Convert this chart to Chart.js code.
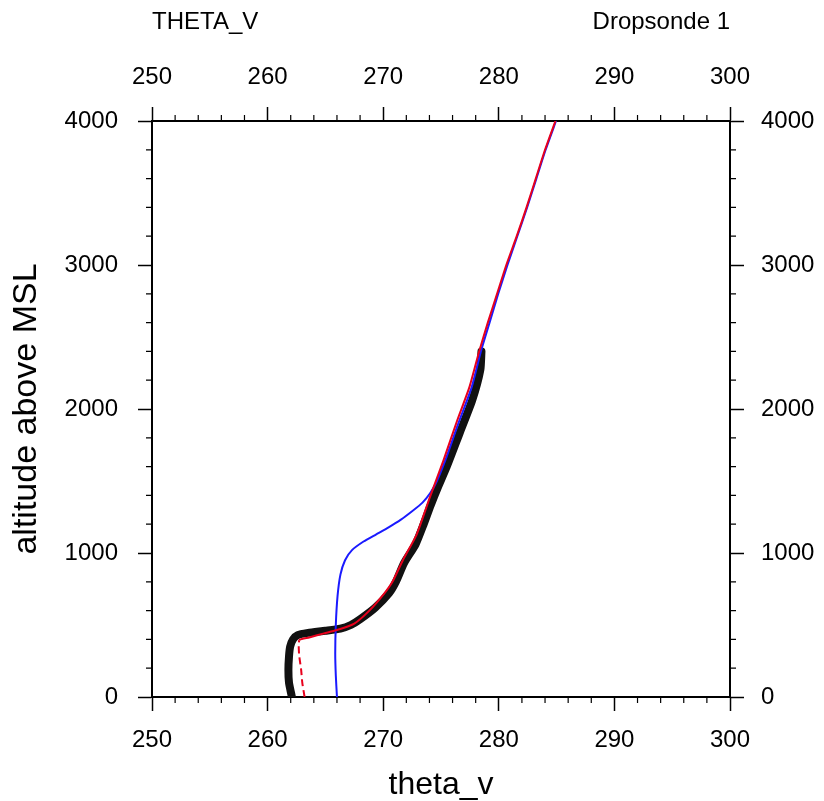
<!DOCTYPE html>
<html>
<head>
<meta charset="utf-8">
<script src="https://cdn.jsdelivr.net/npm/chart.js@4"></script>
<style>
  html, body { margin: 0; padding: 0; background: #fff; }
  canvas { display: block; }
</style>
</head>
<body>
<canvas id="chart" width="824" height="801"></canvas>
<script>
// tick values
const xTicks = [250, 260, 270, 280, 290, 300]
const yTicks = [0, 1000, 2000, 3000, 4000]
const xMinorStep = 2
const yMinorStep = 200

// observed theta_v (thick black)
const obsAlt = [0, 20, 100, 190, 280, 350, 400, 430, 445, 460, 475, 500, 540, 620, 720, 800, 930, 1060, 1200, 1330, 1450, 1600, 1830, 2060, 2270, 2400]
const obsTheta = [262.1, 262.05, 261.85, 261.8, 261.85, 261.95, 262.2, 262.6, 263.5, 265.0, 266.3, 267.2, 268.0, 269.3, 270.5, 271.1, 271.8, 272.8, 273.5, 274.1, 274.7, 275.5, 276.6, 277.7, 278.4, 278.5]

// red profile (dashed below ~400 m)
const redAlt = [0, 100, 190, 300, 395, 413, 440, 465, 510, 600, 720, 800, 950, 1130, 1390, 1640, 1920, 2150, 2400, 2600, 2800, 3000, 3200, 3400, 3600, 3800, 4000]
const redTheta = [263.2, 263.0, 262.9, 262.72, 262.75, 263.6, 264.8, 266.0, 267.5, 268.8, 270.1, 270.8, 271.7, 272.9, 274.05, 275.2, 276.4, 277.45, 278.3, 279.05, 279.85, 280.65, 281.55, 282.4, 283.2, 284.0, 284.9]
const redDashBelow = 400

// blue profile
const blueAlt = [0, 150, 300, 500, 700, 850, 950, 1020, 1080, 1130, 1180, 1230, 1290, 1350, 1420, 1500, 1650, 1900, 2150, 2400, 2600, 2800, 3000, 3200, 3400, 3600, 3800, 4000]
const blueTheta = [266.0, 265.9, 265.85, 265.9, 266.05, 266.3, 266.7, 267.3, 268.3, 269.4, 270.5, 271.5, 272.5, 273.4, 274.1, 274.65, 275.4, 276.5, 277.65, 278.45, 279.2, 279.95, 280.75, 281.6, 282.45, 283.25, 284.05, 284.95]

const toPoints = (xs, ys) => xs.map((x, i) => ({ x, y: ys[i] }))

const fontFamily = "'Liberation Sans', Arial, Helvetica, sans-serif"
const tickFont = { family: fontFamily, size: 24 }

const minorTicks = {
  id: "minorTicks",
  afterDraw(chart) {
    const ctx = chart.ctx
    const len = 6
    ctx.save()
    ctx.strokeStyle = "#000"
    ctx.lineWidth = 1.2
    ctx.beginPath()
    ;["x", "x2"].forEach((id) => {
      const scale = chart.scales[id]
      const edge = id === "x" ? scale.top : scale.bottom
      const dir = id === "x" ? 1 : -1
      for (let v = scale.min; v <= scale.max; v += xMinorStep) {
        if (xTicks.includes(v)) continue
        const px = scale.getPixelForValue(v)
        ctx.moveTo(px, edge)
        ctx.lineTo(px, edge + dir * len)
      }
    })
    ;["y", "y2"].forEach((id) => {
      const scale = chart.scales[id]
      const edge = id === "y" ? scale.right : scale.left
      const dir = id === "y" ? -1 : 1
      for (let v = scale.min; v <= scale.max; v += yMinorStep) {
        if (yTicks.includes(v)) continue
        const py = scale.getPixelForValue(v)
        ctx.moveTo(edge, py)
        ctx.lineTo(edge + dir * len, py)
      }
    })
    ctx.stroke()
    ctx.restore()
  }
}

const cornerTitles = {
  id: "cornerTitles",
  afterDraw(chart) {
    const ctx = chart.ctx
    const area = chart.chartArea
    ctx.save()
    ctx.fillStyle = "#000"
    ctx.font = `24px ${fontFamily}`
    ctx.textBaseline = "middle"
    ctx.textAlign = "left"
    ctx.fillText("THETA_V", area.left, 22)
    ctx.textAlign = "right"
    ctx.fillText("Dropsonde 1", area.right, 22)
    ctx.restore()
  }
}

const xAxis = (position, height, title) => ({
  type: "linear",
  position,
  min: 250,
  max: 300,
  afterFit: (scale) => { scale.height = height },
  afterBuildTicks: (scale) => { scale.ticks = xTicks.map((value) => ({ value })) },
  ticks: { font: tickFont, color: "#000", padding: 15, maxRotation: 0, callback: (value) => String(value) },
  grid: { drawOnChartArea: false, drawTicks: true, tickLength: 14, tickWidth: 1.5, tickColor: "#000" },
  border: { display: true, color: "#000", width: 2 },
  title: title
    ? { display: true, text: title, color: "#000", font: { family: fontFamily, size: 32, lineHeight: 1 }, padding: { top: 2, bottom: 0 } }
    : { display: false }
})

const yAxis = (position, width, pad, title) => ({
  type: "linear",
  position,
  min: 0,
  max: 4000,
  afterFit: (scale) => { scale.width = width },
  afterBuildTicks: (scale) => { scale.ticks = yTicks.map((value) => ({ value })) },
  ticks: { font: tickFont, color: "#000", padding: pad, callback: (value) => String(value) },
  grid: { drawOnChartArea: false, drawTicks: true, tickLength: 14, tickWidth: 1.5, tickColor: "#000" },
  border: { display: true, color: "#000", width: 2 },
  title: title
    ? { display: true, text: title, color: "#000", font: { family: fontFamily, size: 34, lineHeight: 1 }, padding: { top: 10, bottom: 0 } }
    : { display: false }
})

new Chart(document.getElementById("chart"), {
  type: "scatter",
  data: {
    datasets: [
      {
        label: "red",
        data: toPoints(redTheta, redAlt),
        showLine: true,
        borderColor: "#e8001c",
        borderWidth: 2,
        pointRadius: 0,
        tension: 0.2,
        segment: {
          borderDash: (ctx) => (ctx.p1.parsed.y <= redDashBelow ? [7, 4] : undefined)
        }
      },
      {
        label: "blue",
        data: toPoints(blueTheta, blueAlt),
        showLine: true,
        borderColor: "#1a1aff",
        borderWidth: 2,
        pointRadius: 0,
        tension: 0.2
      },
      {
        label: "obs",
        data: toPoints(obsTheta, obsAlt),
        showLine: true,
        borderColor: "#111",
        borderWidth: 8,
        borderCapStyle: "round",
        borderJoinStyle: "round",
        pointRadius: 0,
        tension: 0.2
      }
    ]
  },
  options: {
    responsive: false,
    animation: false,
    layout: { padding: 0 },
    plugins: {
      legend: { display: false },
      tooltip: { enabled: false },
      title: { display: false }
    },
    scales: {
      x: xAxis("bottom", 104, "theta_v"),
      x2: xAxis("top", 121, null),
      y: yAxis("left", 152, 20, "altitude above MSL"),
      y2: yAxis("right", 94, 17, null)
    }
  },
  plugins: [minorTicks, cornerTitles]
})
</script>
</body>
</html>
